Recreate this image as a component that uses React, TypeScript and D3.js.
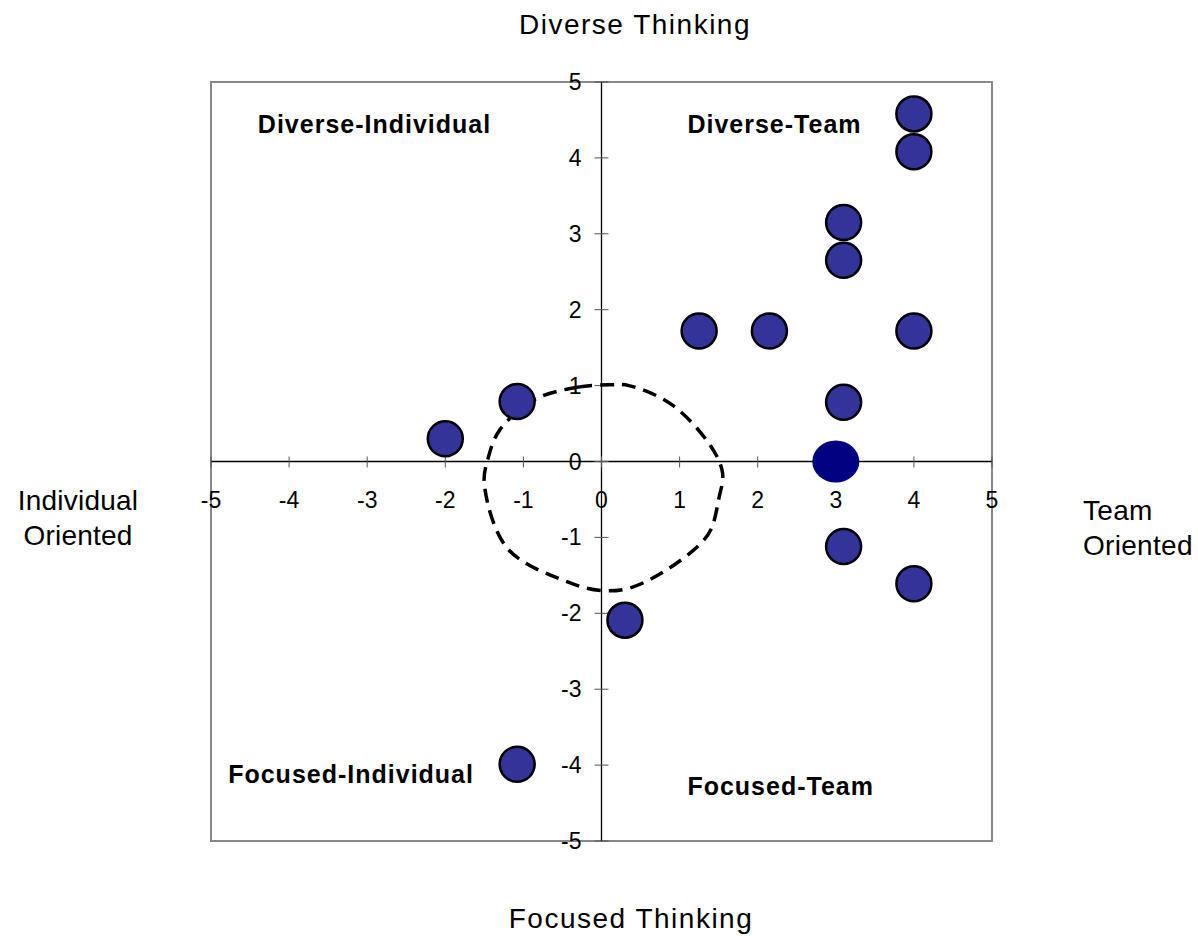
import React from "react";
import * as d3 from "d3";

const ticks = [-5, -4, -3, -2, -1, 0, 1, 2, 3, 4, 5];
const pointsX = [4, 4, 3.1, 3.1, 1.25, 2.15, 4, 3.1, 3.1, 4, 0.3, -1.08, -2.0, -1.08];
const pointsY = [4.58, 4.08, 3.15, 2.65, 1.72, 1.72, 1.72, 0.78, -1.12, -1.61, -2.09, -3.99, 0.3, 0.79];
const highlightX = [3];
const highlightY = [0];
const circleX = [-0.85, -0.3, 0.1, 0.35, 0.9, 1.4, 1.55, 1.5, 1.4, 1.25, 0.8, 0.35, 0, -0.4, -1.2, -1.5, -1.45, -1.3];
const circleY = [0.82, 0.98, 1.01, 1.0, 0.75, 0.2, -0.15, -0.5, -0.9, -1.1, -1.45, -1.67, -1.7, -1.6, -1.15, -0.3, 0.05, 0.42];
const quadrantLabels = ["Diverse-Individual", "Diverse-Team", "Focused-Individual", "Focused-Team"];
const quadrantX = [-4.4, 1.1, -4.78, 1.1];
const quadrantY = [4.33, 4.33, -4.24, -4.4];

export default function App() {
  const W = 1198, H = 936;
  const x = d3.scaleLinear().domain([-5, 5]).range([211, 992]);
  const y = d3.scaleLinear().domain([-5, 5]).range([841, 82]);
  const font = "'Liberation Sans', Arial, sans-serif";
  const line = d3
    .line<number>()
    .x((i) => x(circleX[i]))
    .y((i) => y(circleY[i]))
    .curve(d3.curveCatmullRomClosed.alpha(0.5));
  const pathD = line(circleX.map((_, i) => i)) || "";
  return (
    <svg width={W} height={H} style={{ position: "absolute", left: 0, top: 0, background: "#fff" }}>
      <rect x={x(-5)} y={y(5)} width={x(5) - x(-5)} height={y(-5) - y(5)} fill="none" stroke="#888" strokeWidth={2} />
      <line x1={x(-5)} x2={x(5)} y1={y(0)} y2={y(0)} stroke="#000" strokeWidth={1.3} />
      <line x1={x(0)} x2={x(0)} y1={y(-5)} y2={y(5)} stroke="#000" strokeWidth={1.3} />
      {ticks.map((t) => (
        <g key={"xt" + t}>
          <line x1={x(t)} x2={x(t)} y1={y(0) - 5} y2={y(0) + 6} stroke="#555" strokeWidth={1} />
          <line x1={x(0) - 7} x2={x(0) + 7} y1={y(t)} y2={y(t)} stroke="#555" strokeWidth={1} />
          <text x={x(t)} y={y(0) + 46} textAnchor="middle" fontFamily={font} fontSize={23} fill="#000">
            {t}
          </text>
          <text x={x(0) - 20} y={y(t) + 8} textAnchor="end" fontFamily={font} fontSize={23} fill="#000">
            {t}
          </text>
        </g>
      ))}
      <path d={pathD} fill="none" stroke="#000" strokeWidth={3.5} strokeDasharray="14,8" />
      {pointsX.map((px, i) => (
        <circle key={"p" + i} cx={x(px)} cy={y(pointsY[i])} r={17.5} fill="#333399" stroke="#000" strokeWidth={2.5} />
      ))}
      {highlightX.map((hx, i) => (
        <ellipse key={"h" + i} cx={x(hx)} cy={y(highlightY[i])} rx={23.5} ry={21} fill="#000080" />
      ))}
      {quadrantLabels.map((q, i) => (
        <text key={q} x={x(quadrantX[i])} y={y(quadrantY[i])} fontFamily={font} fontSize={25} fontWeight="bold" letterSpacing={1} fill="#000">
          {q}
        </text>
      ))}
      <text x={635} y={34} textAnchor="middle" fontFamily={font} fontSize={28} letterSpacing={1.5} fill="#000">Diverse Thinking</text>
      <text x={631} y={928} textAnchor="middle" fontFamily={font} fontSize={28} letterSpacing={1.5} fill="#000">Focused Thinking</text>
      <text x={78} y={510} textAnchor="middle" fontFamily={font} fontSize={28} letterSpacing={0.2} fill="#000">Individual</text>
      <text x={78} y={545} textAnchor="middle" fontFamily={font} fontSize={28} letterSpacing={0.2} fill="#000">Oriented</text>
      <text x={1083} y={520} textAnchor="start" fontFamily={font} fontSize={28} letterSpacing={0.3} fill="#000">Team</text>
      <text x={1083} y={555} textAnchor="start" fontFamily={font} fontSize={28} letterSpacing={0.3} fill="#000">Oriented</text>
    </svg>
  );
}
